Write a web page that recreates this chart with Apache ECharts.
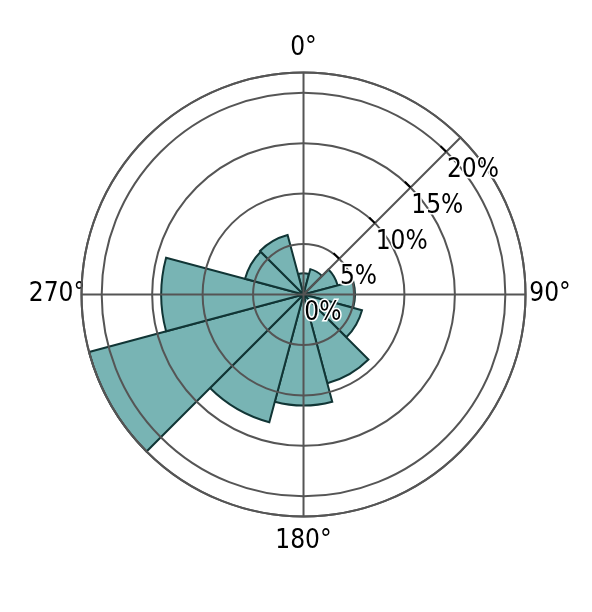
<!DOCTYPE html>
<html><head><meta charset="utf-8">
<script src="https://cdn.jsdelivr.net/npm/echarts@6/dist/echarts.min.js"></script>
<style>html,body{margin:0;padding:0;background:#fff}#c{width:592px;height:612px}</style>
</head><body><div id="c"></div>
<script>
// Compass direction (sector centre, degrees) and frequency (%)
const directions = ['0', '30', '60', '90', '120', '150', '180', '210', '240', '270', '300', '330'];
const frequencies = [2.1, 2.6, 3.5, 5.1, 6.0, 9.1, 11.0, 13.1, 22.0, 14.1, 6.0, 6.1];
const radiusMax = 22;
const radiusLabelValues = [0, 5, 10, 15, 20];
const radiusTickValues = [5, 10, 15, 20];

const FONT = "'DejaVu Sans Condensed', 'DejaVu Sans', sans-serif";
const GRID = '#555555';

const chart = echarts.init(document.getElementById('c'), null, { renderer: 'canvas' });
chart.setOption({
  backgroundColor: '#ffffff',
  animation: false,
  polar: [
    { center: ['51.27%', '48.12%'], radius: 222 },
    { center: ['51.27%', '48.12%'], radius: 222 },
    { center: ['51.27%', '48.12%'], radius: 222 }
  ],
  angleAxis: [
    {
      polarIndex: 0, type: 'category', data: directions, startAngle: 105, clockwise: true,
      boundaryGap: true, axisLine: { show: false }, axisTick: { show: false },
      axisLabel: { show: false }, splitLine: { show: false }
    },
    {
      polarIndex: 1, type: 'value', min: 0, max: 360, interval: 90, startAngle: 90, clockwise: true,
      z: 10,
      axisLine: { show: true, lineStyle: { color: GRID, width: 2 } },
      axisTick: { show: false },
      axisLabel: {
        show: true, margin: 0,
        fontFamily: FONT, fontSize: 26, color: '#000',
        formatter: v => (v === 360 ? '' : '{b|' + v + '°}'),
        rich: { b: { width: 49, lineHeight: 49, height: 49, align: 'center', verticalAlign: 'middle', fontFamily: FONT, fontSize: 26, color: '#000' } }
      },
      splitLine: { show: true, lineStyle: { color: GRID, width: 2 } }
    },
    {
      polarIndex: 2, type: 'value', min: 0, max: 360, startAngle: 45, clockwise: true, show: false
    }
  ],
  radiusAxis: [
    { polarIndex: 0, type: 'value', min: 0, max: radiusMax, show: false },
    {
      polarIndex: 1, type: 'value', min: 0, max: radiusMax, interval: 5, z: 10,
      axisLine: { show: false }, axisTick: { show: false }, axisLabel: { show: false },
      splitLine: { show: true, lineStyle: { color: GRID, width: 2 } }
    },
    {
      polarIndex: 2, type: 'value', min: 0, max: radiusMax, interval: 5, z: 11,
      axisLine: { show: true, lineStyle: { color: GRID, width: 2 } },
      axisTick: { show: true, inside: true, length: 8, customValues: radiusTickValues, lineStyle: { color: '#000', width: 2 } },
      axisLabel: {
        show: true, inside: true, margin: 6, customValues: radiusLabelValues,
        align: 'left', verticalAlign: 'top', padding: [10, 0, 0, 5],
        fontFamily: FONT, fontSize: 26, color: '#000',
        textBorderColor: '#fff', textBorderWidth: 3,
        formatter: '{value}%'
      },
      splitLine: { show: false }
    }
  ],
  series: [{
    type: 'bar', coordinateSystem: 'polar', polarIndex: 0,
    data: frequencies, barCategoryGap: '0%', z: 2,
    itemStyle: { color: '#78b4b4', borderColor: '#113535', borderWidth: 2 }
  }]
});
</script></body></html>
